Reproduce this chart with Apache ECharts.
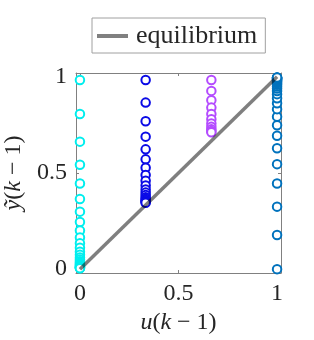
<!DOCTYPE html>
<html><head><meta charset="utf-8">
<script src="https://cdn.jsdelivr.net/npm/echarts@6/dist/echarts.min.js"></script>
<style>html,body{margin:0;padding:0;background:#fff}#c{width:314px;height:340px}</style>
</head><body><div id="c"></div>
<script>
const xTicks = [0, 0.5, 1];
const yTicks = [0, 0.5, 1];
const tickLabels = ['0', '0.5', '1'];
const eqX = [0, 1];
const eqY = [0, 1];
const cyanX = 0;
const cyanY = [0.984, 0.807, 0.663, 0.543, 0.445, 0.365, 0.299, 0.245, 0.201, 0.165, 0.135, 0.111, 0.091, 0.075, 0.061, 0.05, 0.041, 0.034, 0.028, 0.023, 0.019, 0.015, 0.012, 0.01, 0.008, 0.007, 0.006, 0.005];
const blueX = 1/3;
const blueY = [0.984, 0.866, 0.769, 0.689, 0.623, 0.571, 0.527, 0.49, 0.46, 0.435, 0.414, 0.398, 0.385, 0.374, 0.366, 0.359, 0.353, 0.349, 0.345];
const purpleX = 2/3;
const purpleY = [0.984, 0.927, 0.878, 0.84, 0.807, 0.78, 0.758, 0.74, 0.727, 0.718, 0.712];
const rightX = 1;
const rightY = [0, 0.178, 0.325, 0.445, 0.546, 0.629, 0.694, 0.748, 0.793, 0.832, 0.863, 0.889, 0.91, 0.926, 0.939, 0.95, 0.959, 0.966, 0.972, 0.977, 0.981, 0.985, 0.988, 0.99, 0.992, 0.994, 0.995, 0.996, 0.997];

const FONT = 'Liberation Serif';
const chart = echarts.init(document.getElementById('c'), null, {renderer: 'canvas'});
const col = (x, ys) => ys.map(y => [x, y]);
const axisCommon = {
  type: 'value', min: -0.02, max: 1.02,
  axisLine: {show: true, onZero: false, lineStyle: {color: '#808080', width: 1}},
  splitLine: {show: false},
  axisTick: {show: true, inside: true, length: 3, customValues: xTicks, lineStyle: {color: '#808080'}},
};
const rich = {i: {fontFamily: FONT, fontStyle: 'italic', fontSize: 24, color: '#262626'}};
const scatter = (name, x, ys, color) => ({
  type: 'scatter', name, data: col(x, ys), symbol: 'emptyCircle', symbolSize: 8.5,
  itemStyle: {color: color, borderWidth: 2, opacity: 1}, z: 2, silent: true
});
chart.setOption({
  animation: false,
  grid: {left: 76, top: 73, width: 205, height: 200, outerBoundsMode: 'none', containLabel: false},
  legend: {
    left: 92, top: 18, padding: [5, 8, 4, 5], borderColor: '#a0a0a0', borderWidth: 1,
    data: [{name: 'equilibrium', icon: 'rect', itemStyle: {color: '#808080'}}],
    itemWidth: 31, itemHeight: 4,
    textStyle: {fontFamily: FONT, fontSize: 26, color: '#262626', padding: [0, 0, 0, 3]}
  },
  xAxis: [
    Object.assign({}, axisCommon, {
      position: 'bottom',
      axisLabel: {customValues: xTicks, formatter: v => tickLabels[xTicks.indexOf(v)], fontFamily: FONT, fontSize: 24, color: '#262626', margin: 9},
      name: '{i|u}({i|k} − 1)', nameLocation: 'middle', nameGap: 36,
      nameTextStyle: {fontFamily: FONT, fontSize: 24, color: '#262626', rich: rich}
    }),
    Object.assign({}, axisCommon, {position: 'top', axisLabel: {show: false}})
  ],
  yAxis: [
    Object.assign({}, axisCommon, {
      position: 'left',
      axisTick: Object.assign({}, axisCommon.axisTick, {customValues: yTicks}),
      axisLabel: {customValues: yTicks, formatter: v => tickLabels[yTicks.indexOf(v)], fontFamily: FONT, fontSize: 24, color: '#262626', margin: 9},
      name: '{i|ỹ}({i|k} − 1)', nameLocation: 'middle', nameGap: 44, nameRotate: 90,
      nameTextStyle: {fontFamily: FONT, fontSize: 24, color: '#262626', rich: rich}
    }),
    Object.assign({}, axisCommon, {position: 'right',
      axisTick: Object.assign({}, axisCommon.axisTick, {customValues: yTicks}),
      axisLabel: {show: false}})
  ],
  series: [
    scatter('c', cyanX, cyanY, '#00eeee'),
    scatter('b', blueX, blueY, '#0a0ae6'),
    scatter('p', purpleX, purpleY, '#b44cff'),
    scatter('r', rightX, rightY, '#0072bd'),
    {type: 'line', name: 'equilibrium', data: eqX.map((x, i) => [x, eqY[i]]), symbol: 'none',
     lineStyle: {color: 'rgba(0,0,0,0.5)', width: 3.5}, z: 3, silent: true}
  ]
});
</script></body></html>
